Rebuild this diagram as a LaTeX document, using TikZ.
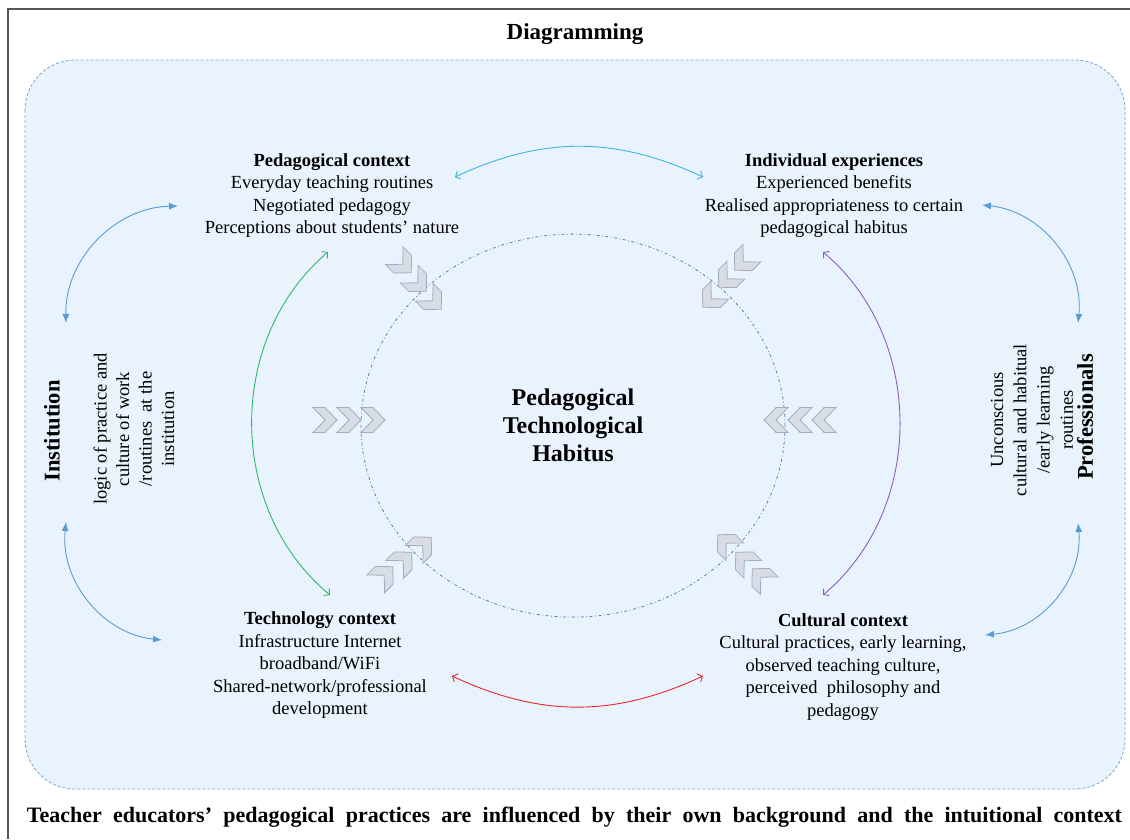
\documentclass[tikz,border=0pt]{standalone}
\usepackage{fontspec}
\setmainfont{Liberation Serif}
\usetikzlibrary{arrows.meta}
\definecolor{bgblue}{HTML}{E9F3FD}
\definecolor{bgedge}{HTML}{7EA6D0}
\definecolor{ellcol}{HTML}{5F80AE}
\definecolor{framecol}{HTML}{555555}
\definecolor{bluearc}{HTML}{5B9BD5}
\definecolor{cyanarc}{HTML}{3FB4E4}
\definecolor{redarc}{HTML}{E8262A}
\definecolor{greenarc}{HTML}{33B56B}
\definecolor{purplearc}{HTML}{8E5CC1}
\definecolor{chevfill}{HTML}{D8DCE4}
\definecolor{chevdraw}{HTML}{A3ACBC}
\tikzset{
  body/.style={font=\fontsize{18.5}{22.5}\selectfont, align=center, inner sep=0pt},
  bodyb/.style={font=\fontsize{18.5}{23.2}\selectfont, align=center, inner sep=0pt},
  sidehead/.style={font=\bfseries\fontsize{22.5}{26}\selectfont, inner sep=0pt},
  bluearr/.style={draw=bluearc, line width=0.9pt, {Latex[length=9pt,width=7pt]}-{Latex[length=9pt,width=7pt]}},
  colarr/.style={draw=#1, line width=0.9pt, {Straight Barb[length=4pt,width=9pt]}-{Straight Barb[length=4pt,width=9pt]}},
  chev/.pic={\path[draw=chevdraw, fill=chevfill, line width=0.8pt, line join=miter]
     (-12,12.5) -- (0,12.5) -- (12,0) -- (0,-12.5) -- (-12,-12.5) -- (0,0) -- cycle;}
}
\begin{document}
\begin{tikzpicture}[x=1pt,y=1pt]
\useasboundingbox (0,0) rectangle (1130,-839);
\fill[white] (0,0) rectangle (1130,-839);
\draw[framecol, line width=1.2pt] (8,-839) -- (8,-9) -- (1130,-9);
\draw[fill=bgblue, draw=bgedge, line width=0.8pt, dash pattern=on 3pt off 2pt, rounded corners=50pt]
  (25,-60) rectangle (1125,-789);
\draw[ellcol, line width=0.8pt, dash pattern=on 3pt off 2.5pt on 0.8pt off 2.5pt]
  (573,-425.6) ellipse [x radius=212, y radius=191.5];

% titles
\node[font=\bfseries\fontsize{23}{27}\selectfont, inner sep=0pt] (title) at (575,-34) {Diagramming};
\node[font=\bfseries\fontsize{22}{26}\selectfont, inner sep=0pt] (caption) at (574.5,-817)
  {\makebox[1095pt][s]{Teacher educators’ pedagogical practices are influenced by their own background and the intuitional context}};

% centre
\node[font=\bfseries\fontsize{24}{28}\selectfont, align=center, inner sep=0pt] (ptc) at (573,-425)
  {Pedagogical\\Technological\\Habitus};

% context blocks
\node[body] (ped) at (332,-195.5)
  {\textbf{Pedagogical context}\\Everyday teaching routines\\Negotiated pedagogy\\Perceptions about students’ nature};
\node[body] (ind) at (834,-195.5)
  {\textbf{Individual experiences}\\Experienced benefits\\Realised appropriateness to certain\\pedagogical habitus};
\node[body] (tech) at (320,-665.5)
  {\textbf{Technology context}\\Infrastructure Internet\\broadband/WiFi\\Shared-network/professional\\development};
\node[body] (cult) at (843,-667)
  {\textbf{Cultural context}\\Cultural practices, early learning,\\observed teaching culture,\\perceived\ \ philosophy and\\pedagogy};

% side labels
\node[sidehead, rotate=90] (inst) at (52,-431) {Institution};
\node[body, rotate=90] (instt) at (134,-429)
  {logic of practice and\\culture of work\\/routines\ \ at the\\institution};
\node[sidehead, rotate=90] (prof) at (1085,-417) {Professionals};
\node[bodyb, rotate=90] (proft) at (1032,-420)
  {Unconscious\\cultural and habitual\\/early learning\\routines};

% arrow end points
\coordinate (b1s) at (178,-206);  \coordinate (b1e) at (66,-323);
\coordinate (b2s) at (66,-522);   \coordinate (b2e) at (162,-640);
\coordinate (b3s) at (982,-205);  \coordinate (b3e) at (1078,-323);
\coordinate (b4s) at (1078,-523); \coordinate (b4e) at (985,-635);
\coordinate (cs) at (455,-177);   \coordinate (ce) at (703,-177);
\coordinate (rs) at (452,-676);   \coordinate (re) at (703,-676);
\coordinate (gs) at (328,-252);   \coordinate (ge) at (330,-595);
\coordinate (ps) at (823,-252);   \coordinate (pe) at (823,-595);

\draw[bluearr] (b1s) to[bend right=45] (b1e);
\draw[bluearr] (b2s) to[bend right=45] (b2e);
\draw[bluearr] (b3s) to[bend left=45] (b3e);
\draw[bluearr] (b4s) to[bend left=45] (b4e);
\draw[colarr=cyanarc] (cs) to[bend left=25] (ce);
\draw[colarr=redarc] (rs) to[bend right=25] (re);
\draw[colarr=greenarc] (gs) to[bend right=50] (ge);
\draw[colarr=purplearc] (ps) to[bend left=50] (pe);

% chevrons
\foreach \x in {325,349,373} \pic at (\x,-420) {chev};
\foreach \x in {776,800,824} \pic[rotate=180] at (\x,-420) {chev};
\foreach \x/\y in {402.75/264.25, 417.75/282.75, 432.75/300.75} \pic[rotate=-45] at (\x,-\y) {chev};
\foreach \x/\y in {711.25/298.75, 727.25/278.75, 743.25/261.75} \pic[rotate=-135] at (\x,-\y) {chev};
\foreach \x/\y in {384.25/575.25, 403.25/560.75, 422.75/545.75} \pic[rotate=45] at (\x,-\y) {chev};
\foreach \x/\y in {726.25/543.25, 744.25/560.75, 760.75/577.25} \pic[rotate=135] at (\x,-\y) {chev};
\end{tikzpicture}
\end{document}
